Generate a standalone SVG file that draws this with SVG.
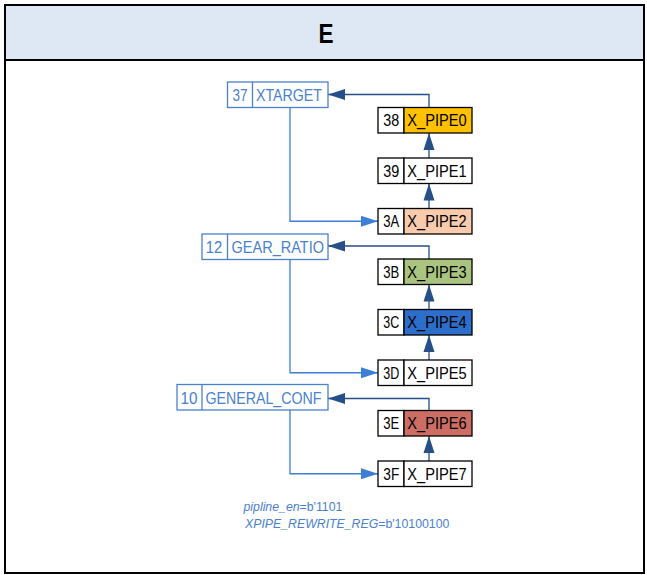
<svg xmlns="http://www.w3.org/2000/svg" width="647" height="575" viewBox="0 0 647 575">
<defs>
<style>
.frame{fill:#fff;stroke:#000;stroke-width:2}
.hdr{fill:#dde8f4;stroke:#000;stroke-width:2}
.title{font-family:"Liberation Sans",Arial,sans-serif;font-weight:bold;font-size:27px;fill:#000}
.pb{stroke:#000;stroke-width:1.3}
.rb{fill:#fff;stroke:#4a80d0;stroke-width:1.3}
.pt{font-family:"Liberation Sans",Arial,sans-serif;font-size:17px;fill:#000}
.rt{font-family:"Liberation Sans",Arial,sans-serif;font-size:17px;fill:#4a80d0}
.note{font-family:"Liberation Sans",Arial,sans-serif;font-size:12.3px;fill:#4a80d0}
.it{font-style:italic}
.dk{fill:none;stroke:#264e87;stroke-width:1.3}
.lt{fill:none;stroke:#3d7fd6;stroke-width:1.3}
</style>
<marker id="ad" markerUnits="userSpaceOnUse" markerWidth="18" markerHeight="12" viewBox="0 0 17 12" refX="17" refY="6" orient="auto"><path d="M0,0.5 L17,6 L0,11.5 Z" fill="#264e87"/></marker>
<marker id="al" markerUnits="userSpaceOnUse" markerWidth="18" markerHeight="12" viewBox="0 0 17 12" refX="17" refY="6" orient="auto"><path d="M0,0.5 L17,6 L0,11.5 Z" fill="#3d7fd6"/></marker>
</defs>
<rect class="frame" x="5" y="5" width="639" height="568"/>
<rect class="hdr" x="5" y="5" width="639" height="55"/>
<text class="title" x="326" y="43" text-anchor="middle" textLength="15" lengthAdjust="spacingAndGlyphs">E</text>

<g id="connectors">
<path class="dk" d="M429,107.5 V94.5 H328" marker-end="url(#ad)"/>
<path class="dk" d="M429,158 V133" marker-end="url(#ad)"/>
<path class="dk" d="M429,208.5 V183.5" marker-end="url(#ad)"/>
<path class="lt" d="M290,107.5 V221.25 H378" marker-end="url(#al)"/>
<path class="dk" d="M429,259 V246 H328" marker-end="url(#ad)"/>
<path class="dk" d="M429,309.5 V284.5" marker-end="url(#ad)"/>
<path class="dk" d="M429,360 V335" marker-end="url(#ad)"/>
<path class="lt" d="M290,259.5 V372.75 H378" marker-end="url(#al)"/>
<path class="dk" d="M429,410.5 V398.5 H328" marker-end="url(#ad)"/>
<path class="dk" d="M429,461 V436" marker-end="url(#ad)"/>
<path class="lt" d="M290,410 V473.75 H378" marker-end="url(#al)"/>
</g>

<g id="XTARGET">
<rect class="rb" x="227.5" y="82" width="100.5" height="25.5"/>
<line class="rb" x1="252.5" y1="82" x2="252.5" y2="107.5"/>
<text class="rt" x="240" y="100.8" text-anchor="middle" textLength="15" lengthAdjust="spacingAndGlyphs">37</text>
<text class="rt" x="256" y="100.8" textLength="66" lengthAdjust="spacingAndGlyphs">XTARGET</text>
</g>
<g id="GEAR_RATIO">
<rect class="rb" x="202" y="234" width="126" height="25.5"/>
<line class="rb" x1="227.5" y1="234" x2="227.5" y2="259.5"/>
<text class="rt" x="214" y="252.8" text-anchor="middle" textLength="16.5" lengthAdjust="spacingAndGlyphs">12</text>
<text class="rt" x="231.5" y="252.8" textLength="92.5" lengthAdjust="spacingAndGlyphs">GEAR_RATIO</text>
</g>
<g id="GENERAL_CONF">
<rect class="rb" x="177" y="384.5" width="151" height="25.5"/>
<line class="rb" x1="202" y1="384.5" x2="202" y2="410"/>
<text class="rt" x="189" y="403.8" text-anchor="middle" textLength="17" lengthAdjust="spacingAndGlyphs">10</text>
<text class="rt" x="205.5" y="403.8" textLength="116" lengthAdjust="spacingAndGlyphs">GENERAL_CONF</text>
</g>

<g id="X_PIPE0">
<rect class="pb" x="378" y="107.5" width="26" height="25.5" fill="#fff"/>
<rect class="pb" x="404" y="107.5" width="68" height="25.5" fill="#ffc000"/>
<text class="pt" x="391.3" y="126.3" text-anchor="middle" textLength="16" lengthAdjust="spacingAndGlyphs">38</text>
<text class="pt" x="407.3" y="126.3" textLength="59.4" lengthAdjust="spacingAndGlyphs">X_PIPE0</text>
</g>
<g id="X_PIPE1">
<rect class="pb" x="378" y="158" width="26" height="25.5" fill="#fff"/>
<rect class="pb" x="404" y="158" width="68" height="25.5" fill="#fff"/>
<text class="pt" x="391.3" y="176.8" text-anchor="middle" textLength="16" lengthAdjust="spacingAndGlyphs">39</text>
<text class="pt" x="407.3" y="176.8" textLength="59.4" lengthAdjust="spacingAndGlyphs">X_PIPE1</text>
</g>
<g id="X_PIPE2">
<rect class="pb" x="378" y="208.5" width="26" height="25.5" fill="#fff"/>
<rect class="pb" x="404" y="208.5" width="68" height="25.5" fill="#f8cbad"/>
<text class="pt" x="391.3" y="227.3" text-anchor="middle" textLength="16" lengthAdjust="spacingAndGlyphs">3A</text>
<text class="pt" x="407.3" y="227.3" textLength="59.4" lengthAdjust="spacingAndGlyphs">X_PIPE2</text>
</g>
<g id="X_PIPE3">
<rect class="pb" x="378" y="259" width="26" height="25.5" fill="#fff"/>
<rect class="pb" x="404" y="259" width="68" height="25.5" fill="#aac480"/>
<text class="pt" x="391.3" y="277.8" text-anchor="middle" textLength="16" lengthAdjust="spacingAndGlyphs">3B</text>
<text class="pt" x="407.3" y="277.8" textLength="59.4" lengthAdjust="spacingAndGlyphs">X_PIPE3</text>
</g>
<g id="X_PIPE4">
<rect class="pb" x="378" y="309.5" width="26" height="25.5" fill="#fff"/>
<rect class="pb" x="404" y="309.5" width="68" height="25.5" fill="#2d6ecb"/>
<text class="pt" x="391.3" y="328.3" text-anchor="middle" textLength="16" lengthAdjust="spacingAndGlyphs">3C</text>
<text class="pt" x="407.3" y="328.3" textLength="59.4" lengthAdjust="spacingAndGlyphs">X_PIPE4</text>
</g>
<g id="X_PIPE5">
<rect class="pb" x="378" y="360" width="26" height="25.5" fill="#fff"/>
<rect class="pb" x="404" y="360" width="68" height="25.5" fill="#fff"/>
<text class="pt" x="391.3" y="378.8" text-anchor="middle" textLength="16" lengthAdjust="spacingAndGlyphs">3D</text>
<text class="pt" x="407.3" y="378.8" textLength="59.4" lengthAdjust="spacingAndGlyphs">X_PIPE5</text>
</g>
<g id="X_PIPE6">
<rect class="pb" x="378" y="410.5" width="26" height="25.5" fill="#fff"/>
<rect class="pb" x="404" y="410.5" width="68" height="25.5" fill="#cd6e65"/>
<text class="pt" x="391.3" y="429.3" text-anchor="middle" textLength="16" lengthAdjust="spacingAndGlyphs">3E</text>
<text class="pt" x="407.3" y="429.3" textLength="59.4" lengthAdjust="spacingAndGlyphs">X_PIPE6</text>
</g>
<g id="X_PIPE7">
<rect class="pb" x="378" y="461" width="26" height="25.5" fill="#fff"/>
<rect class="pb" x="404" y="461" width="68" height="25.5" fill="#fff"/>
<text class="pt" x="391.3" y="479.8" text-anchor="middle" textLength="16" lengthAdjust="spacingAndGlyphs">3F</text>
<text class="pt" x="407.3" y="479.8" textLength="59.4" lengthAdjust="spacingAndGlyphs">X_PIPE7</text>
</g>

<g id="notes">
<text class="note" x="243.5" y="510.5"><tspan class="it">pipline_en</tspan>=b'1101</text>
<text class="note" x="245" y="527.5"><tspan class="it">XPIPE_REWRITE_REG</tspan>=b'10100100</text>
</g>
</svg>
